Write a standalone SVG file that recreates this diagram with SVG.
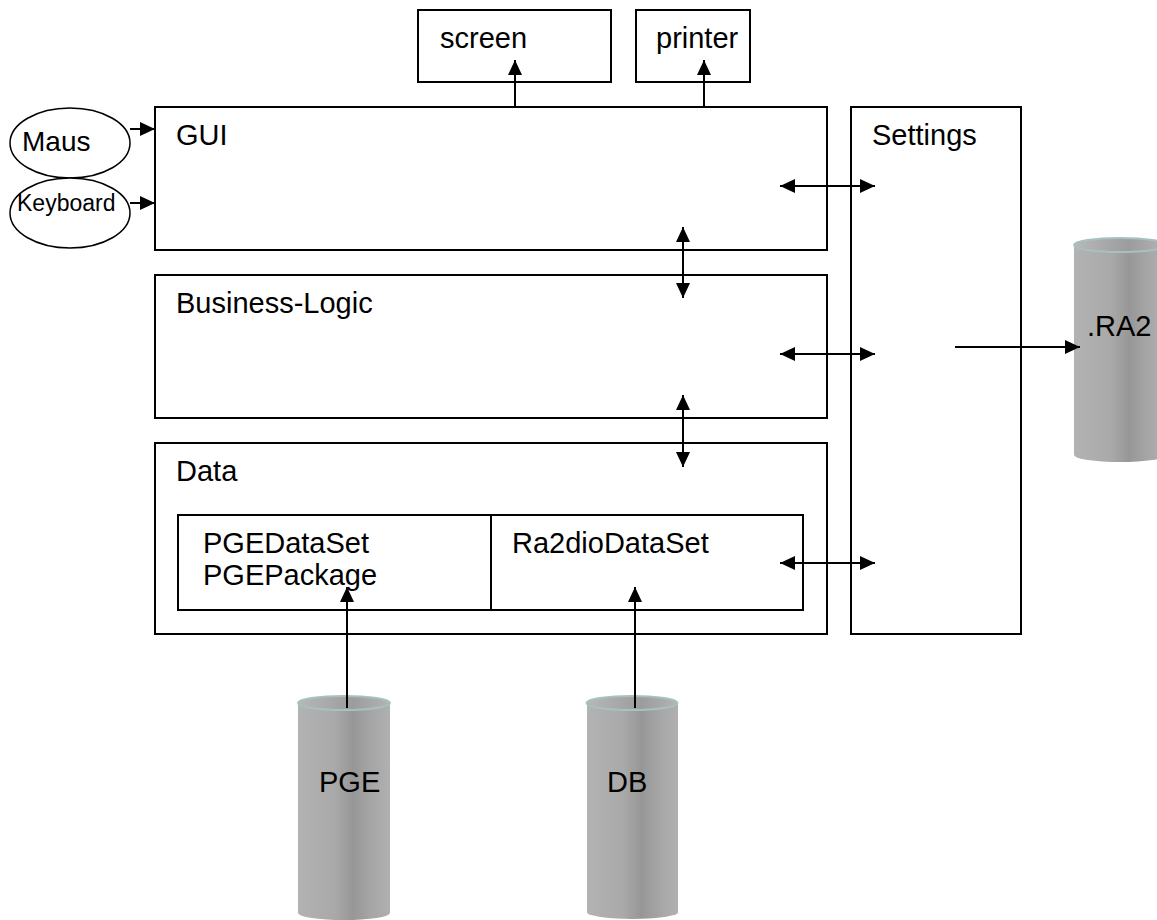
<svg xmlns="http://www.w3.org/2000/svg" width="1157" height="920" viewBox="0 0 1157 920">
  <style>
    .box { fill: #ffffff; stroke: #000000; stroke-width: 2; }
    .ell { fill: #ffffff; stroke: #000000; stroke-width: 1.5; }
    .lbl { font-family: "Liberation Sans", Arial, sans-serif; font-size: 29px; fill: #000000; }
    .mid { font-size: 28px; }
    .small { font-size: 23px; }
    .conn { stroke: #000000; stroke-width: 2; fill: none; }
    .one { marker-end: url(#head); }
    .two { marker-start: url(#head); marker-end: url(#head); }
    .cyl-body { fill: url(#cylShade); }
    .cyl-top { fill: url(#cylTop); stroke: #a7c0c0; stroke-width: 2; }
  </style>
  <defs>
    <marker id="head" viewBox="0 0 15 14" refX="15" refY="7" markerWidth="15" markerHeight="14" markerUnits="userSpaceOnUse" orient="auto-start-reverse">
      <path d="M0,0 L15,7 L0,14 Z" fill="#000000"/>
    </marker>
    <linearGradient id="cylShade" x1="0" y1="0" x2="1" y2="0">
      <stop offset="0" stop-color="#b3b3b3"/>
      <stop offset="0.4" stop-color="#a9a9a9"/>
      <stop offset="0.6" stop-color="#979797"/>
      <stop offset="0.8" stop-color="#a6a6a6"/>
      <stop offset="1" stop-color="#b0b0b0"/>
    </linearGradient>
    <linearGradient id="cylTop" x1="0" y1="0" x2="1" y2="0">
      <stop offset="0" stop-color="#b8b8b8"/>
      <stop offset="0.6" stop-color="#9c9c9c"/>
      <stop offset="1" stop-color="#b4b4b4"/>
    </linearGradient>
  </defs>

  <!-- output devices -->
  <g id="screen">
    <rect class="box" x="418" y="10" width="193" height="72"/>
    <text class="lbl" x="440" y="48">screen</text>
  </g>
  <g id="printer">
    <rect class="box" x="636" y="10" width="114" height="72"/>
    <text class="lbl" x="656" y="48">printer</text>
  </g>

  <!-- input devices -->
  <g id="maus">
    <ellipse class="ell" cx="70" cy="143" rx="60" ry="35"/>
    <text class="lbl mid" x="22" y="151">Maus</text>
  </g>
  <g id="keyboard">
    <ellipse class="ell" cx="70" cy="213" rx="60" ry="35"/>
    <text class="lbl small" x="17" y="211">Keyboard</text>
  </g>

  <!-- layers -->
  <g id="gui">
    <rect class="box" x="155" y="107" width="672" height="143"/>
    <text class="lbl" x="176" y="145">GUI</text>
  </g>
  <g id="business-logic">
    <rect class="box" x="155" y="275" width="672" height="143"/>
    <text class="lbl" x="176" y="313">Business-Logic</text>
  </g>
  <g id="data">
    <rect class="box" x="155" y="443" width="672" height="191"/>
    <text class="lbl" x="176" y="481">Data</text>
  </g>
  <g id="pge-dataset">
    <rect class="box" x="178" y="515" width="313" height="95"/>
    <text class="lbl" x="203" y="553">PGEDataSet</text>
    <text class="lbl" x="203" y="585">PGEPackage</text>
  </g>
  <g id="ra2dio-dataset">
    <rect class="box" x="491" y="515" width="312" height="95"/>
    <text class="lbl" x="512" y="553">Ra2dioDataSet</text>
  </g>
  <g id="settings">
    <rect class="box" x="851" y="107" width="170" height="527"/>
    <text class="lbl" x="872" y="145">Settings</text>
  </g>

  <!-- storage -->
  <g id="ra2-file">
    <path class="cyl-body" d="M1074,245 V455 A46,7 0 0 0 1166,455 V245 Z"/>
    <ellipse class="cyl-top" cx="1120" cy="245" rx="46" ry="7"/>
    <text class="lbl" x="1087" y="336">.RA2</text>
  </g>
  <g id="pge">
    <path class="cyl-body" d="M298,703 V913 A46,7 0 0 0 390,913 V703 Z"/>
    <ellipse class="cyl-top" cx="344" cy="703" rx="46" ry="7"/>
    <text class="lbl" x="319" y="792">PGE</text>
  </g>
  <g id="db">
    <path class="cyl-body" d="M587,703 V913 A46,7 0 0 0 678,913 V703 Z"/>
    <ellipse class="cyl-top" cx="632" cy="703" rx="45.5" ry="7"/>
    <text class="lbl" x="607" y="792">DB</text>
  </g>

  <!-- connectors -->
  <g id="connectors">
    <line class="conn one" x1="130" y1="129" x2="155" y2="129"/>
    <line class="conn one" x1="130" y1="203" x2="155" y2="203"/>
    <line class="conn one" x1="515" y1="107" x2="515" y2="60"/>
    <line class="conn one" x1="704" y1="107" x2="704" y2="60"/>
    <line class="conn two" x1="780" y1="186" x2="875" y2="186"/>
    <line class="conn two" x1="780" y1="354" x2="875" y2="354"/>
    <line class="conn two" x1="780" y1="563" x2="875" y2="563"/>
    <line class="conn two" x1="683" y1="227" x2="683" y2="298"/>
    <line class="conn two" x1="683" y1="395" x2="683" y2="467"/>
    <line class="conn one" x1="955" y1="347" x2="1080" y2="347"/>
    <line class="conn one" x1="347" y1="708" x2="347" y2="587"/>
    <line class="conn one" x1="635" y1="708" x2="635" y2="587"/>
  </g>
</svg>
